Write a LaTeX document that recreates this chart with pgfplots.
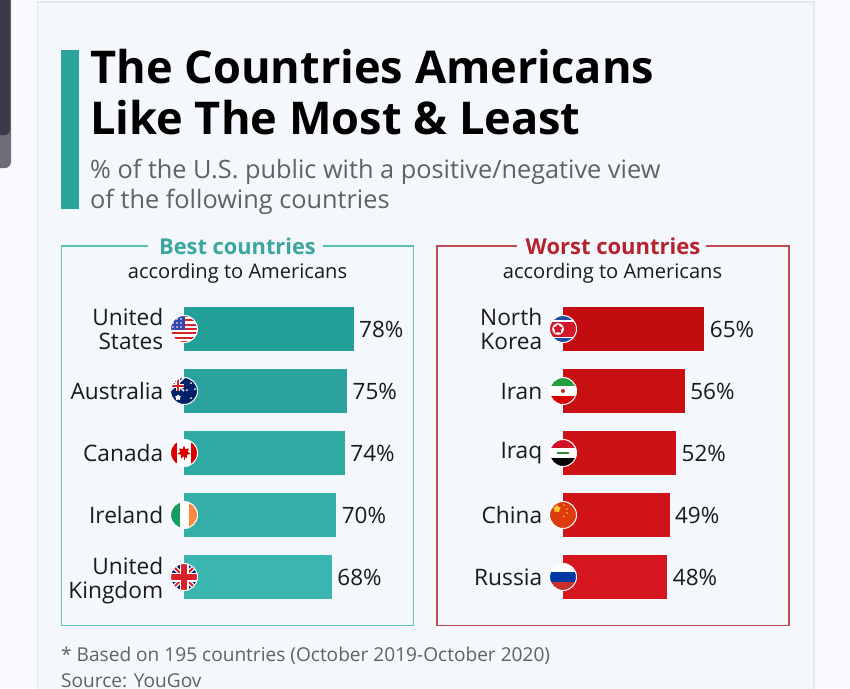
\documentclass[border=0pt]{standalone}
\usepackage{pgfplots}
\pgfplotsset{compat=1.18}
\usepackage{fontspec}
\setmainfont{Open Sans}
\usetikzlibrary{shapes.geometric}
\definecolor{pagebg}{HTML}{F8FAFD}
\definecolor{cardbg}{HTML}{F4F7FB}
\definecolor{cardedge}{HTML}{E6E8EC}
\definecolor{devdark}{HTML}{3C394B}
\definecolor{devgrey}{HTML}{6F6D78}
\definecolor{teal}{HTML}{2AA39C}
\definecolor{tealline}{HTML}{58C0B9}
\definecolor{besttxt}{HTML}{3AA69F}
\definecolor{worsttxt}{HTML}{B5232E}
\definecolor{redline}{HTML}{BE4A52}
\definecolor{subgrey}{HTML}{5A6468}
\definecolor{txt}{HTML}{1A1A1A}
\definecolor{ta}{HTML}{22A098}\definecolor{tb}{HTML}{2BA29C}\definecolor{tc}{HTML}{30A9A3}\definecolor{td}{HTML}{36AEA8}\definecolor{te}{HTML}{3AB5AF}
\definecolor{ra}{HTML}{C20C10}\definecolor{rb}{HTML}{C81013}\definecolor{rc}{HTML}{CC1216}\definecolor{rd}{HTML}{D01419}\definecolor{re}{HTML}{D5161E}
\definecolor{navy}{HTML}{012169}
\definecolor{flagred}{HTML}{D8232F}
\definecolor{irgreen}{HTML}{169B62}\definecolor{irorange}{HTML}{FF883E}
\definecolor{nkblue}{HTML}{1F4E9E}\definecolor{nkred}{HTML}{D3162A}
\definecolor{irngreen}{HTML}{239F40}\definecolor{irnred}{HTML}{DA0000}\definecolor{irnem}{HTML}{C8252B}
\definecolor{iqred}{HTML}{CE1126}\definecolor{iqgreen}{HTML}{2E8B3E}
\definecolor{cnred}{HTML}{DE3A10}\definecolor{cnyel}{HTML}{FFC72C}
\definecolor{rublue}{HTML}{0039A6}\definecolor{rured}{HTML}{C8302E}
\newcommand{\flag}[2]{%
  \begin{scope}[shift={(#1)}]
    \begin{scope}\clip (0,0) circle (13.5);#2\end{scope}
    \draw[white,line width=1pt] (0,0) circle (13.5);
  \end{scope}}
\pgfplotsset{panel/.style={
  scale only axis,width=217.5pt,height=310pt,xmin=0,xmax=100,
  ymin=-0.5,ymax=4.5,y dir=reverse,clip=false,
  xbar,bar width=44pt,bar shift=0pt,
  axis line style={draw=none},tick style={draw=none},
  xtick=\empty,ytick={0,1,2,3,4},
  /pgf/number format/assume math mode=true,
  yticklabel style={align=right,anchor=east,xshift=-13pt,text=txt,
    font=\fontsize{22.7}{24}\selectfont},
  nodes near coords={\pgfmathprintnumber{\pgfplotspointmeta}\%},
  nodes near coords align={horizontal},
  every node near coord/.append style={text=txt,xshift=2pt,
    font=\fontsize{22.5}{24}\selectfont}}}
\begin{document}
\begin{tikzpicture}[x=1pt,y=-1pt]
\clip (0,0) rectangle (850,688);
\fill[pagebg] (0,0) rectangle (850,688);
\fill[devgrey,rounded corners=6pt] (-10,-10) rectangle (11,168);
\fill[devdark,rounded corners=5pt] (-10,-10) rectangle (10,135);
\fill[cardedge] (36.5,1) rectangle (814.5,700);
\fill[cardbg] (38,2.5) rectangle (813,700);
\fill[teal] (61,50) rectangle (79,208.5);
\node[anchor=base west,inner sep=0pt,font=\fontsize{45.15}{50}\selectfont\bfseries,text=black] at (90,83.5) {The Countries Americans};
\node[anchor=base west,inner sep=0pt,font=\fontsize{45.15}{50}\selectfont\bfseries,text=black] at (90,134) {Like The Most \& Least};
\node[anchor=base west,inner sep=0pt,font=\fontsize{25.3}{30}\selectfont,text=subgrey] at (90,178) {\% of the U.S. public with a positive/negative view};
\node[anchor=base west,inner sep=0pt,font=\fontsize{25.3}{30}\selectfont,text=subgrey] at (90,208.5) {of the following countries};
% frames
\draw[tealline,line width=1.2pt] (148,246) -- (61.5,246) -- (61.5,625.5) -- (413.5,625.5) -- (413.5,246) -- (323,246);
\draw[redline,line width=1.2pt] (517,246) -- (437,246) -- (437,625.5) -- (789,625.5) -- (789,246) -- (706,246);
\node[anchor=base,inner sep=0pt,font=\fontsize{21.8}{24}\selectfont\bfseries,text=besttxt] at (237.5,254.5) {Best countries};
\node[anchor=base,inner sep=0pt,font=\fontsize{20.1}{24}\selectfont,text=txt] at (237.5,278) {according to Americans};
\node[anchor=base,inner sep=0pt,font=\fontsize{22}{24}\selectfont\bfseries,text=worsttxt] at (613,254.5) {Worst countries};
\node[anchor=base,inner sep=0pt,font=\fontsize{20.1}{24}\selectfont,text=txt] at (612.5,278) {according to Americans};
% left panel
\begin{axis}[panel,at={(184pt,-298pt)},anchor=north west,
  yticklabels={{United\\States},Australia,Canada,Ireland,{\rule{0pt}{25pt}United\\Kingdom}}]
\addplot[fill=ta,draw=none] coordinates {(78,0)};
\addplot[fill=tb,draw=none] coordinates {(75,1)};
\addplot[fill=tc,draw=none] coordinates {(74,2)};
\addplot[fill=td,draw=none] coordinates {(70,3)};
\addplot[fill=te,draw=none] coordinates {(68,4)};
\coordinate (L0) at (axis cs:0,0);
\coordinate (L1) at (axis cs:0,1);
\coordinate (L2) at (axis cs:0,2);
\coordinate (L3) at (axis cs:0,3);
\coordinate (L4) at (axis cs:0,4);
\end{axis}
% right panel
\begin{axis}[panel,at={(563pt,-298pt)},anchor=north west,
  yticklabels={{North\\Korea},Iran,Iraq,China,Russia}]
\addplot[fill=ra,draw=none] coordinates {(65,0)};
\addplot[fill=rb,draw=none] coordinates {(56,1)};
\addplot[fill=rc,draw=none] coordinates {(52,2)};
\addplot[fill=rd,draw=none] coordinates {(49,3)};
\addplot[fill=re,draw=none] coordinates {(48,4)};
\coordinate (R0) at (axis cs:0,0);
\coordinate (R1) at (axis cs:0,1);
\coordinate (R2) at (axis cs:0,2);
\coordinate (R3) at (axis cs:0,3);
\coordinate (R4) at (axis cs:0,4);
\end{axis}
% flags
\flag{L0}{\fill[white] (-14,-14) rectangle (14,14);
  \foreach \i in {0,2,4,6,8,10,12}{\fill[flagred] (-14,{-14+\i*2.16}) rectangle (14,{-14+(\i+1)*2.16});}
  \fill[navy!70!blue!80!white] (-14,-14) rectangle (1,1);
  \foreach \a in {-11,-7,-3}\foreach \b in {-10,-6,-2}{\fill[white] (\a,\b) circle (0.8);}}
\flag{L1}{\fill[navy] (-14,-14) rectangle (14,14);
  \fill[white] (-14,-7.5) rectangle (0,-3.5);\fill[white] (-8.5,-14) rectangle (-4.5,0);
  \draw[white,line width=1.5pt] (-14,-13) -- (0,0) (-14,0) -- (0,-13);
  \fill[flagred] (-14,-6.5) rectangle (0,-4.5);\fill[flagred] (-7.5,-14) rectangle (-5.5,0);
  \node[star,fill=white,minimum size=6pt,inner sep=0pt] at (-6,6.5) {};
  \foreach \a/\b in {7/-8,7/7,3/-1,11/-2}{\fill[white] (\a,\b) circle (1);}}
\flag{L2}{\fill[white] (-14,-14) rectangle (14,14);
  \fill[red!85!black] (-14,-14) rectangle (-7,14);\fill[red!85!black] (7,-14) rectangle (14,14);
  \node[star,star points=7,star point ratio=1.7,fill=red!85!black,minimum size=13pt,inner sep=0pt] at (0,-0.5) {};
  \draw[red!85!black,line width=0.8pt] (0,3) -- (0,6.5);}
\flag{L3}{\fill[white] (-14,-14) rectangle (14,14);
  \fill[irgreen] (-14,-14) rectangle (-4.5,14);\fill[irorange] (4.5,-14) rectangle (14,14);}
\flag{L4}{\fill[navy] (-14,-14) rectangle (14,14);
  \draw[white,line width=4.5pt] (-14,-14) -- (14,14) (-14,14) -- (14,-14);
  \draw[flagred,line width=1.8pt] (-14,-14) -- (14,14) (-14,14) -- (14,-14);
  \fill[white] (-14,-4.5) rectangle (14,4.5);\fill[white] (-4.5,-14) rectangle (4.5,14);
  \fill[flagred] (-14,-2.7) rectangle (14,2.7);\fill[flagred] (-2.7,-14) rectangle (2.7,14);}
\flag{R0}{\fill[nkblue] (-14,-14) rectangle (14,14);
  \fill[white] (-14,-9) rectangle (14,9);
  \fill[nkred] (-14,-7.5) rectangle (14,7.5);
  \fill[white] (-5,0) circle (5.8);
  \node[star,fill=nkred,minimum size=9.5pt,inner sep=0pt] at (-5,0) {};}
\flag{R1}{\fill[white] (-14,-14) rectangle (14,14);
  \fill[irngreen] (-14,-14) rectangle (14,-4.7);
  \fill[irnred] (-14,4.7) rectangle (14,14);
  \fill[irnem] (0,0) circle (2);}
\flag{R2}{\fill[white] (-14,-14) rectangle (14,14);
  \fill[iqred] (-14,-14) rectangle (14,-4.7);
  \fill[black] (-14,4.7) rectangle (14,14);
  \fill[iqgreen] (-6,-1.5) rectangle (6,1);}
\flag{R3}{\fill[cnred] (-14,-14) rectangle (14,14);
  \node[star,fill=cnyel,minimum size=8pt,inner sep=0pt] at (-6,-6) {};
  \foreach \a/\b in {1/-10,4/-6,4/-2,1/1.5}{\fill[cnyel] (\a,\b) circle (0.9);}}
\flag{R4}{\fill[white] (-14,-14) rectangle (14,14);
  \fill[rublue] (-14,-4.7) rectangle (14,4.7);
  \fill[rured] (-14,4.7) rectangle (14,14);}
% footer
\node[anchor=base west,inner sep=0pt,font=\fontsize{19.1}{20}\selectfont,text=subgrey] at (61,661) {* Based on 195 countries (October 2019-October 2020)};
\node[anchor=base west,inner sep=0pt,font=\fontsize{19.1}{20}\selectfont,text=subgrey] at (61,687) {Source: YouGov};
\end{tikzpicture}
\end{document}
